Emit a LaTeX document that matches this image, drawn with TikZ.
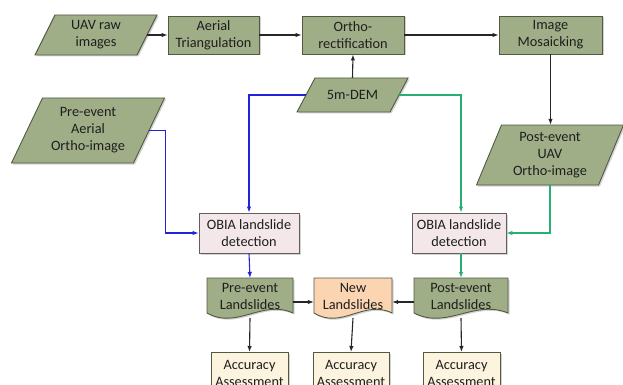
\documentclass[tikz,border=0pt]{standalone}
\usepackage{fontspec}
\setmainfont{Carlito}
\usetikzlibrary{shadows,arrows.meta}
\definecolor{gfill}{RGB}{160,174,136}
\definecolor{gedge}{RGB}{80,90,66}
\definecolor{pfill}{RGB}{243,231,233}
\definecolor{pedge}{RGB}{100,95,95}
\definecolor{ofill}{RGB}{251,213,178}
\definecolor{cfill}{RGB}{252,244,222}
\definecolor{bline}{RGB}{35,35,215}
\definecolor{tline}{RGB}{40,175,115}
\definecolor{tcol}{RGB}{30,30,30}
\newcommand\mypara[7]{%
  \draw[gshape] (#2-#4/2-#6/2,#3+#5/2) -- (#2+#4/2-#6/2,#3+#5/2) -- (#2+#4/2+#6/2,#3-#5/2) -- (#2-#4/2+#6/2,#3-#5/2) -- cycle;
  \node[lbl, minimum width=#4, minimum height=#5] (#1) at (#2,#3) {#7};}
\begin{document}
\begin{tikzpicture}[x=1pt,y=-1pt,
  txt/.style={inner sep=0pt,align=center,text=tcol,font=\fontsize{14.3}{17}\selectfont},
  shad/.style={drop shadow={opacity=0.35,shadow xshift=1.5pt,shadow yshift=-1.5pt}},
  gshape/.style={draw=gedge,fill=gfill,line width=0.9pt,shad},
  gbox/.style={gshape,rectangle,txt},
  pbox/.style={draw=pedge,fill=pfill,line width=0.9pt,shad,rectangle,txt},
  abox/.style={draw=gedge,fill=cfill,line width=0.9pt,shad,rectangle,txt},
  oshape/.style={draw=gedge,fill=ofill,line width=0.9pt,shad},
  lbl/.style={txt},
  arr/.style={-{Latex[length=6pt,width=4.5pt]},line width=1.1pt,draw=black!85},
  barr/.style={arr,draw=bline},
  tarr/.style={arr,draw=tline}]
\useasboundingbox (0,0) rectangle (623,385);
\clip (0,0) rectangle (623,385);
% top row
\mypara{uav}{96}{35}{102}{40}{20}{UAV raw\\images}
\node[gbox,minimum width=91,minimum height=38] (at) at (213.5,35) {Aerial\\Triangulation};
\node[gbox,minimum width=102,minimum height=38] (ortho) at (353,35) {Ortho-\\rectification};
\node[gbox,minimum width=103,minimum height=38] (mos) at (550.5,35) {Image\\Mosaicking};
\mypara{dem}{352.5}{95}{93}{34}{18}{5m-DEM}
\mypara{pre}{88}{130.5}{122}{65}{31}{Pre-event\\Aerial\\Ortho-image}
\mypara{post}{550}{155}{122}{60}{25}{Post-event\\UAV\\Ortho-image}
\node[pbox,minimum width=100,minimum height=40] (obl) at (249,233) {OBIA landslide\\detection};
\node[pbox,minimum width=94,minimum height=40] (obr) at (459,233) {OBIA landslide\\detection};
% documents
\draw[gshape] (207,278) -- (293,278) -- (293,313) .. controls (262,299) and (237,330) .. (207,313) -- cycle;
\node[lbl,minimum width=86,minimum height=34] (prel) at (250,296) {Pre-event\\Landslides};
\draw[oshape] (314,278) -- (392,278) -- (392,313) .. controls (364,299) and (342,330) .. (314,313) -- cycle;
\node[lbl,minimum width=78,minimum height=34] (newl) at (353,296) {New\\Landslides};
\draw[gshape] (414,278) -- (508,278) -- (508,313) .. controls (474,299) and (447,330) .. (414,313) -- cycle;
\node[lbl,minimum width=94,minimum height=34] (postl) at (461,296) {Post-event\\Landslides};
% accuracy
\node[abox,minimum width=77,minimum height=42,anchor=north] (acc1) at (249.5,352) {Accuracy\\Assessment};
\node[abox,minimum width=76,minimum height=42,anchor=north] (acc2) at (351,352) {Accuracy\\Assessment};
\node[abox,minimum width=77,minimum height=42,anchor=north] (acc3) at (461.5,352) {Accuracy\\Assessment};
% connectors
\draw[arr] (uav.east) -- (at.west);
\draw[arr] (at.east) -- (ortho.west);
\draw[arr] (ortho.east) -- (mos.west);
\draw[arr] (dem.north) -- (ortho.south);
\draw[arr] (mos.south) -- (post.north -| mos.south);
\draw[barr] (dem.west) -| (obl.north);
\draw[tarr] (dem.east) -| ([xshift=2pt]obr.north);
\draw[barr] (pre.east) -- ++(16,0) |- (obl.west);
\draw[tarr] (post.south) |- (obr.east);
\draw[barr] (obl.south) -- (prel.north |- 0,278);
\draw[tarr] ([xshift=2pt]obr.south) -- (postl.north |- 0,278);
\draw[arr] (prel.east |- 0,302) -- (newl.west |- 0,302);
\draw[arr] (postl.west |- 0,302) -- (newl.east |- 0,302);
\draw[arr] (prel.south |- 0,318) -- (acc1.north);
\draw[arr] (newl.south |- 0,318) -- (acc2.north);
\draw[arr] (postl.south |- 0,318) -- (acc3.north);
\end{tikzpicture}
\end{document}
